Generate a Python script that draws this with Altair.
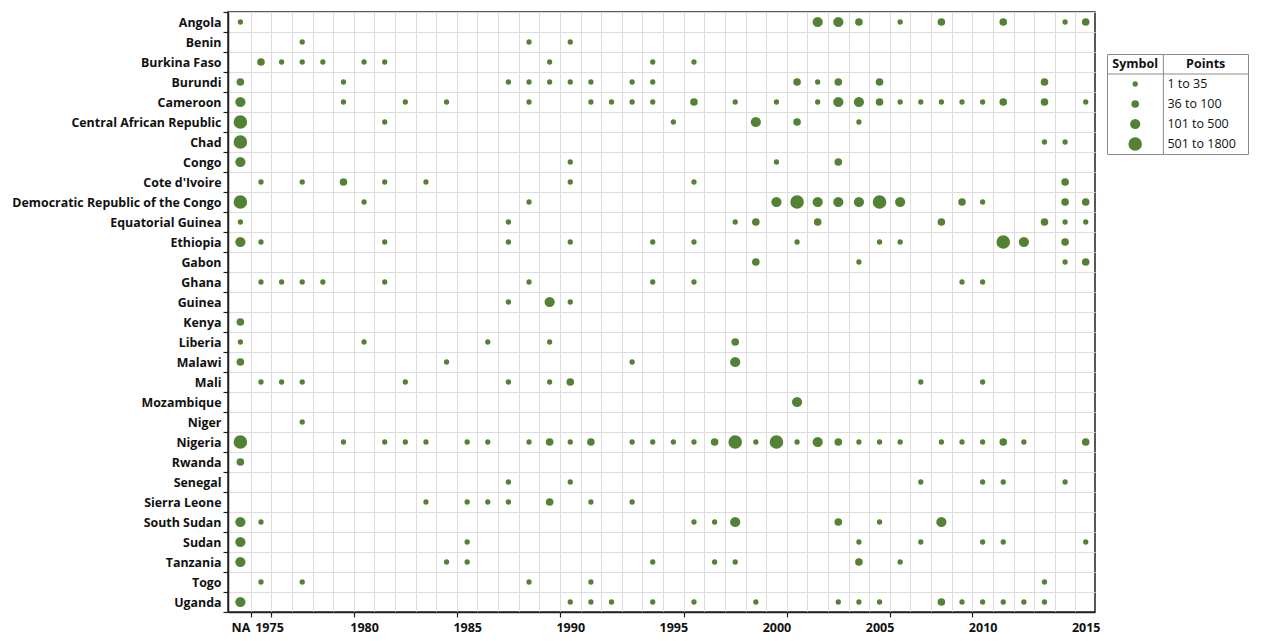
import altair as alt
import pandas as pd

COUNTRIES = [
    "Angola", "Benin", "Burkina Faso", "Burundi", "Cameroon",
    "Central African Republic", "Chad", "Congo", "Cote d'Ivoire",
    "Democratic Republic of the Congo", "Equatorial Guinea", "Ethiopia",
    "Gabon", "Ghana", "Guinea", "Kenya", "Liberia", "Malawi", "Mali",
    "Mozambique", "Niger", "Nigeria", "Rwanda", "Senegal", "Sierra Leone",
    "South Sudan", "Sudan", "Tanzania", "Togo", "Uganda",
]

# Years with events per country ("NA" = year unknown)
YEARS = [
    ["NA", 2002, 2003, 2004, 2006, 2008, 2011, 2014, 2015],
    [1977, 1988, 1990],
    [1975, 1976, 1977, 1978, 1980, 1981, 1989, 1994, 1996],
    ["NA", 1979, 1987, 1988, 1989, 1990, 1991, 1993, 1994, 2001, 2002, 2003, 2005, 2013],
    ["NA", 1979, 1982, 1984, 1988, 1991, 1992, 1993, 1994, 1996, 1998, 2000, 2002, 2003,
     2004, 2005, 2006, 2007, 2008, 2009, 2010, 2011, 2013, 2015],
    ["NA", 1981, 1995, 1999, 2001, 2004],
    ["NA", 2013, 2014],
    ["NA", 1990, 2000, 2003],
    [1975, 1977, 1979, 1981, 1983, 1990, 1996, 2014],
    ["NA", 1980, 1988, 2000, 2001, 2002, 2003, 2004, 2005, 2006, 2009, 2010, 2014, 2015],
    ["NA", 1987, 1998, 1999, 2002, 2008, 2013, 2014, 2015],
    ["NA", 1975, 1981, 1987, 1990, 1994, 1996, 2001, 2005, 2006, 2011, 2012, 2014],
    [1999, 2004, 2014, 2015],
    [1975, 1976, 1977, 1978, 1981, 1988, 1994, 1996, 2009, 2010],
    [1987, 1989, 1990],
    ["NA"],
    ["NA", 1980, 1986, 1989, 1998],
    ["NA", 1984, 1993, 1998],
    [1975, 1976, 1977, 1982, 1987, 1989, 1990, 2007, 2010],
    [2001],
    [1977],
    ["NA", 1979, 1981, 1982, 1983, 1985, 1986, 1988, 1989, 1990, 1991, 1993, 1994, 1995,
     1996, 1997, 1998, 1999, 2000, 2001, 2002, 2003, 2004, 2005, 2006, 2008, 2009, 2010,
     2011, 2012, 2015],
    ["NA"],
    [1987, 1990, 2007, 2010, 2011, 2014],
    [1983, 1985, 1986, 1987, 1989, 1991, 1993],
    ["NA", 1975, 1996, 1997, 1998, 2003, 2005, 2008],
    ["NA", 1985, 2004, 2007, 2010, 2011, 2015],
    ["NA", 1984, 1985, 1994, 1997, 1998, 2004, 2006],
    [1975, 1977, 1988, 1991, 2013],
    ["NA", 1990, 1991, 1992, 1994, 1996, 1999, 2003, 2004, 2005, 2008, 2009, 2010, 2011,
     2012, 2013],
]

# Point class per event: 1 = 1-35, 2 = 36-100, 3 = 101-500, 4 = 501-1800
CLASSES = [
    [1, 3, 3, 2, 1, 2, 2, 1, 2],
    [1, 1, 1],
    [2, 1, 1, 1, 1, 1, 1, 1, 1],
    [2, 1, 1, 1, 1, 1, 1, 1, 1, 2, 1, 2, 2, 2],
    [3, 1, 1, 1, 1, 1, 1, 1, 1, 2, 1, 1, 1, 3, 3, 2, 1, 1, 1, 1, 1, 2, 2, 1],
    [4, 1, 1, 3, 2, 1],
    [4, 1, 1],
    [3, 1, 1, 2],
    [1, 1, 2, 1, 1, 1, 1, 2],
    [4, 1, 1, 3, 4, 3, 3, 3, 4, 3, 2, 1, 2, 2],
    [1, 1, 1, 2, 2, 2, 2, 1, 1],
    [3, 1, 1, 1, 1, 1, 1, 1, 1, 1, 4, 3, 2],
    [2, 1, 1, 2],
    [1, 1, 1, 1, 1, 1, 1, 1, 1, 1],
    [1, 3, 1],
    [2],
    [1, 1, 1, 1, 2],
    [2, 1, 1, 3],
    [1, 1, 1, 1, 1, 1, 2, 1, 1],
    [3],
    [1],
    [4, 1, 1, 1, 1, 1, 1, 1, 2, 1, 2, 1, 1, 1, 1, 2, 4, 1, 4, 1, 3, 2, 1, 1, 1, 1, 1, 1,
     2, 1, 2],
    [2],
    [1, 1, 1, 1, 1, 1],
    [1, 1, 1, 1, 2, 1, 1],
    [3, 1, 1, 1, 3, 2, 1, 3],
    [3, 1, 1, 1, 1, 1, 1],
    [3, 1, 1, 1, 1, 1, 2, 1],
    [1, 1, 1, 1, 1],
    [3, 1, 1, 1, 1, 1, 1, 1, 1, 1, 2, 1, 1, 1, 1, 1],
]

CLASS_IDS = [1, 2, 3, 4]
CLASS_LABELS = ["1 to 35", "36 to 100", "101 to 500", "501 to 1800"]
LABEL_YEARS = [1974, 1975, 1980, 1985, 1990, 1995, 2000, 2005, 2010, 2015]
TICK_YEARS = [1974.5, 1975.5, 1979.5, 1984.5, 1989.5, 1995.5, 2000.5, 2005.5, 2009.5]

GREEN = "#548235"
FONT = "Open Sans"
SIZE_BREAKS = [1.5, 2.5, 3.5]
SIZE_RANGE = [28, 58, 105, 185]

rows = []
for c, ys, ks in zip(COUNTRIES, YEARS, CLASSES):
    for yv, k in zip(ys, ks):
        rows.append({"country": c, "year": str(yv), "cls": k})
df = pd.DataFrame(rows)

grid_years = [1974.5 + i for i in range(41)]

x_axis = alt.Axis(
    title=None,
    values=grid_years + LABEL_YEARS,
    grid=True,
    gridColor="#dcdcdc",
    gridWidth=1,
    gridOpacity={"condition": {"test": "datum.value % 1 != 0", "value": 1}, "value": 0},
    ticks=True,
    tickColor="#222222",
    tickSize=5,
    tickWidth=1.2,
    tickOpacity={"condition": {"test": "indexof(" + str(TICK_YEARS) + ", datum.value) >= 0", "value": 1}, "value": 0},
    labelExpr="datum.value == 1974 ? 'NA' : (datum.value % 1 == 0 ? toString(datum.value) : '')",
    labelOffset={"condition": {"test": "datum.value == 1975", "value": 8}, "value": 0},
    labelOverlap=False,
    labelFlush=False,
    labelBound=False,
    labelFont=FONT,
    labelFontSize=12.5,
    labelFontWeight="bold",
    labelColor="#111111",
    labelPadding=4,
    domainColor="#222222",
    domainWidth=1.5,
)

y_axis = alt.Axis(
    title=None,
    tickBand="extent",
    grid=True,
    gridColor="#dcdcdc",
    ticks=True,
    tickSize=5,
    tickColor="#222222",
    tickWidth=1.2,
    domainColor="#222222",
    domainWidth=1.5,
    labelFont=FONT,
    labelFontSize=12.4,
    labelFontWeight="bold",
    labelColor="#111111",
    labelPadding=2,
    labelLimit=400,
    minExtent=215,
    maxExtent=215,
)

size_scale = alt.Scale(type="threshold", domain=SIZE_BREAKS, range=SIZE_RANGE)

main = (
    alt.Chart(df)
    .transform_calculate(xpos="datum.year === 'NA' ? 1974 : toNumber(datum.year)")
    .mark_circle(color=GREEN, opacity=1)
    .encode(
        x=alt.X("xpos:Q", scale=alt.Scale(domain=[1973.4, 2015.45], nice=False, zero=False), axis=x_axis),
        y=alt.Y("country:N", sort=COUNTRIES, scale=alt.Scale(paddingInner=0, paddingOuter=0), axis=y_axis),
        size=alt.Size("cls:Q", scale=size_scale, legend=None),
    )
    .properties(width=867, height=600, view=alt.ViewBackground(stroke="#222222", strokeWidth=1.5))
)

# Legend table
ROW_DOMAIN = ["Header"] + CLASS_LABELS
COL_DOMAIN = ["s1", "s2", "p1", "p2", "p3"]
xs = alt.Scale(domain=COL_DOMAIN, paddingInner=0, paddingOuter=0)
ysc = alt.Scale(domain=ROW_DOMAIN, paddingInner=0, paddingOuter=0)

leg_df = pd.DataFrame({"row": CLASS_LABELS, "cls": CLASS_IDS, "dotcol": ["s2"] * 4, "txtcol": ["p1"] * 4})
hdr_sym = pd.DataFrame({"row": ["Header"], "col": ["s2"], "text": ["Symbol"]})
hdr_pts = pd.DataFrame({"row": ["Header"], "col": ["p2"], "text": ["Points"]})
div_df = pd.DataFrame({"col": ["p1"]})
hline_df = pd.DataFrame({"row": ["Header"]})

LINE = "#8a8a8a"

leg_dots = alt.Chart(leg_df).mark_circle(color=GREEN, opacity=1).encode(
    x=alt.X("dotcol:N", scale=xs, axis=None, bandPosition=0),
    y=alt.Y("row:N", scale=ysc, axis=None),
    size=alt.Size("cls:Q", scale=size_scale, legend=None),
)
leg_text = alt.Chart(leg_df).mark_text(align="left", dx=4, font=FONT, fontSize=12.5, color="#111111").encode(
    x=alt.X("txtcol:N", scale=xs, axis=None, bandPosition=0),
    y=alt.Y("row:N", scale=ysc, axis=None),
    text="row:N",
)
leg_hdr1 = alt.Chart(hdr_sym).mark_text(font=FONT, fontSize=12.5, fontWeight="bold", color="#111111").encode(
    x=alt.X("col:N", scale=xs, axis=None, bandPosition=0),
    y=alt.Y("row:N", scale=ysc, axis=None),
    text="text:N",
)
leg_hdr2 = alt.Chart(hdr_pts).mark_text(font=FONT, fontSize=12.5, fontWeight="bold", color="#111111").encode(
    x=alt.X("col:N", scale=xs, axis=None),
    y=alt.Y("row:N", scale=ysc, axis=None),
    text="text:N",
)
leg_div = alt.Chart(div_df).mark_rule(color=LINE, strokeWidth=1).encode(
    x=alt.X("col:N", scale=xs, axis=None, bandPosition=0),
)
leg_hline = alt.Chart(hline_df).mark_rule(color=LINE, strokeWidth=1).encode(
    y=alt.Y("row:N", scale=ysc, axis=None, bandPosition=1),
)

legend = alt.layer(leg_div, leg_hline, leg_dots, leg_text, leg_hdr1, leg_hdr2).properties(
    width=141, height=100, view=alt.ViewBackground(stroke=LINE, strokeWidth=1)
)

spacer = (
    alt.Chart(pd.DataFrame({"a": [0]}))
    .mark_point(opacity=0, size=1)
    .encode(x=alt.value(70), y=alt.value(10))
    .properties(width=141, height=20, view=alt.ViewBackground(stroke="transparent"))
)

right = alt.vconcat(spacer, legend, spacing=20)

chart = (
    alt.hconcat(main, right, spacing=12, bounds="flush")
    .properties(padding={"left": 3, "top": -3, "right": 0, "bottom": 0})
    .configure(font=FONT)
)

chart.save("out.html", embed_options={"renderer": "svg", "actions": False})
